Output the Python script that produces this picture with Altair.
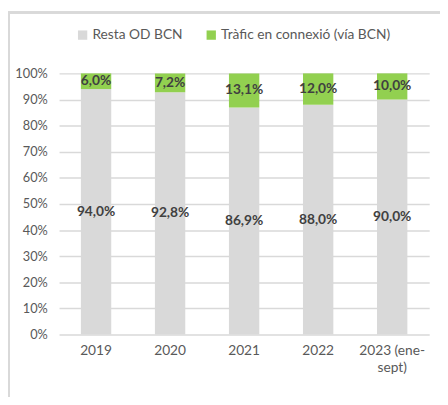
import altair as alt
import pandas as pd

years = ["2019", "2020", "2021", "2022", "2023 (ene-sept)"]
resta = [94.0, 92.8, 86.9, 88.0, 90.0]
connexio = [6.0, 7.2, 13.1, 12.0, 10.0]
series = ["Resta OD BCN", "Tràfic en connexió (vía BCN)"]
colors = ["#d9d9d9", "#92d050"]
y_ticks = [0.0, 0.1, 0.2, 0.3, 0.4, 0.5, 0.6, 0.7, 0.8, 0.9, 1.0]

rows = []
for i, y in enumerate(years):
    start = 0.0
    for k, (s, v) in enumerate(zip(series, [resta[i], connexio[i]])):
        rows.append({
            "year": y, "serie": s, "order": k,
            "y0": start / 100, "y1": (start + v) / 100,
            "mid": (start + v / 2) / 100,
            "label": f"{v:.1f}%".replace(".", ","),
        })
        start += v
df = pd.DataFrame(rows)

FONT = "Lato"

x_axis = alt.Axis(labelAngle=0, ticks=False, domain=False, labelPadding=9,
                  labelFontSize=14, labelColor="#595959", labelFont=FONT,
                  labelLineHeight=18,
                  labelExpr="datum.label == '2023 (ene-sept)' ? ['2023 (ene-', 'sept)'] : datum.label")
y_axis = alt.Axis(format=".0%", values=y_ticks,
                  ticks=False, domain=False, labelPadding=12,
                  labelOverlap=False,
                  labelFontSize=13, labelColor="#595959", labelFont=FONT,
                  gridColor="#d9d9d9", gridWidth=1.5)
xscale = alt.Scale(paddingInner=0.59, paddingOuter=0.295)
yscale = alt.Scale(domain=[0, 1], nice=False)

bars = alt.Chart(df).mark_bar().encode(
    x=alt.X("year:N", sort=years, title=None, scale=xscale, axis=x_axis),
    y=alt.Y("y0:Q", title=None, scale=yscale, axis=y_axis),
    y2="y1:Q",
    color=alt.Color("serie:N", sort=series,
                    scale=alt.Scale(domain=series, range=colors),
                    legend=alt.Legend(title=None, orient="none", direction="horizontal",
                                      legendX=17, legendY=-46,
                                      symbolType="square", symbolSize=90,
                                      symbolStrokeWidth=0, symbolOpacity=1,
                                      labelFontSize=14, labelColor="#595959",
                                      labelFont=FONT, columnPadding=22,
                                      labelOffset=3, labelLimit=0)),
)

texts = alt.Chart(df).mark_text(fontSize=14, fontWeight="bold", color="#404040",
                                font=FONT, baseline="middle").encode(
    x=alt.X("year:N", sort=years, title=None, scale=xscale, axis=None),
    y=alt.Y("mid:Q", title=None, scale=yscale, axis=None),
    text="label:N",
)

border_top = alt.Chart(df).mark_rule(color="#d9d9d9", strokeWidth=2, clip=False).encode(
    x=alt.value(-52), x2=alt.value(440), y=alt.value(-62))
border_left = alt.Chart(df).mark_rule(color="#d9d9d9", strokeWidth=2, clip=False).encode(
    x=alt.value(-51), y=alt.value(-63), y2=alt.value(340))

chart = alt.layer(bars, texts, border_top, border_left).resolve_axis(
    x="independent", y="independent"
).properties(
    width=377, height=266,
    padding={"left": 52, "top": 63, "right": 11, "bottom": 60},
    autosize=alt.AutoSizeParams(type="none"),
).configure_view(stroke=None)

chart.save("out.html", embed_options={"renderer": "svg", "actions": False})
